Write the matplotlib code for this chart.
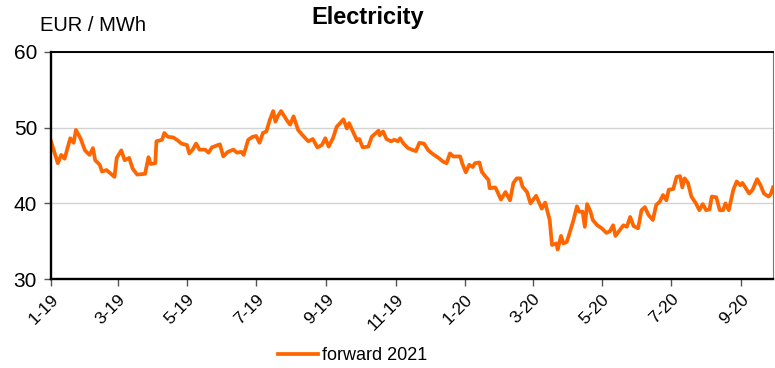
import matplotlib.pyplot as plt
import matplotlib.dates as mdates
import numpy as np
import pandas as pd

plt.rcParams['font.family'] = ['Liberation Sans', 'DejaVu Sans']

# forward 2021 contract, days counted from 1 Jan 2019
day = [0, 6, 9, 12, 17, 20, 22, 26, 30, 34, 37, 39, 43, 45, 49, 56, 58, 62, 65, 69,
       72, 76, 83, 86, 88, 92, 93, 98, 100, 103, 108, 112, 115, 120, 122, 125, 128,
       131, 136, 139, 142, 149, 152, 156, 161, 164, 168, 170, 174, 178, 181, 184,
       187, 190, 193, 196, 198, 200, 203, 208, 211, 214, 218, 222, 227, 231, 235,
       239, 242, 245, 249, 252, 255, 258, 261, 263, 267, 270, 272, 275, 280, 283,
       289, 290, 293, 296, 300, 303, 306, 308, 311, 315, 320, 322, 325, 329, 333,
       337, 342, 346, 349, 352, 355, 361, 363, 366, 369, 372, 374, 378, 380, 383,
       386, 387, 392, 394, 397, 401, 405, 408, 411, 414, 416, 420, 423, 428, 433,
       436, 440, 442, 446, 447, 450, 452, 455, 457, 461, 464, 466, 469, 471, 473,
       476, 478, 482, 486, 490, 493, 496, 498, 502, 505, 508, 511, 514, 518, 521,
       524, 527, 531, 534, 537, 540, 543, 545, 549, 552, 555, 557, 559, 562, 565,
       569, 572, 575, 578, 581, 583, 587, 590, 593, 595, 598, 602, 605, 608, 610,
       616, 619, 623, 626, 629, 633, 635, 637]
price = [48.2, 45.3, 46.4, 45.9, 48.6, 48.0, 49.7, 48.6, 47.0, 46.4, 47.3, 45.7, 45.1,
         44.2, 44.4, 43.5, 46.0, 47.0, 45.7, 46.0, 44.6, 43.8, 43.9, 46.1, 45.2, 45.3,
         48.2, 48.4, 49.3, 48.8, 48.7, 48.3, 47.9, 47.7, 46.6, 47.1, 47.9, 47.1, 47.1,
         46.7, 47.4, 47.8, 46.2, 46.8, 47.1, 46.7, 46.8, 46.4, 48.4, 48.8, 48.9, 48.0,
         49.3, 49.5, 51.0, 52.2, 50.8, 51.5, 52.2, 51.0, 50.4, 51.5, 49.7, 49.0, 48.2,
         48.5, 47.4, 47.7, 48.6, 47.5, 48.7, 50.1, 50.6, 51.1, 49.9, 50.6, 49.3, 48.3,
         48.5, 47.4, 47.5, 48.8, 49.6, 49.0, 49.5, 48.5, 48.2, 48.4, 48.2, 48.6, 47.9,
         47.3, 47.0, 46.9, 48.0, 47.9, 47.0, 46.5, 46.0, 45.5, 45.3, 46.6, 46.2, 46.2,
         45.2, 44.1, 45.1, 44.8, 45.3, 45.4, 44.2, 43.6, 43.1, 42.0, 42.1, 41.5, 40.5,
         41.5, 40.4, 42.7, 43.3, 43.3, 42.2, 41.5, 40.0, 41.0, 39.3, 40.1, 37.8, 34.5,
         34.7, 33.9, 35.7, 34.7, 34.9, 35.8, 37.8, 39.6, 38.9, 38.9, 36.9, 39.9, 38.9,
         37.8, 37.1, 36.7, 36.1, 36.3, 37.1, 35.7, 36.5, 37.1, 36.9, 38.2, 37.0, 36.7,
         39.1, 39.5, 38.5, 37.8, 39.8, 40.2, 41.1, 40.4, 41.8, 41.9, 43.5, 43.6, 42.1,
         43.3, 42.7, 40.9, 40.0, 39.1, 39.9, 39.1, 39.2, 40.9, 40.8, 39.1, 39.1, 40.0,
         39.1, 41.8, 42.9, 42.4, 42.7, 41.3, 41.8, 43.2, 42.4, 41.3, 40.9, 41.2, 42.1]

start = pd.Timestamp('2019-01-01')
dates = start + pd.to_timedelta(day, unit='D')

tick_dates = pd.date_range('2019-01-01', '2020-09-01', freq='2MS')
tick_labels = [f'{d.month}-{d.strftime("%y")}' for d in tick_dates]

fig = plt.figure(figsize=(7.75, 3.68), dpi=100)
ax = fig.add_axes([0.0658, 0.2418, 0.9316, 0.6169])

ax.plot(dates, price, color='#ff6600', lw=2.7, label='forward 2021')

ax.set_ylim(30, 60)
ax.set_yticks([30, 40, 50, 60])
ax.set_xlim(start, start + pd.Timedelta(days=637))
ax.set_xticks(tick_dates)
ax.set_xticklabels(tick_labels, rotation=45, ha='right', rotation_mode='anchor', fontsize=12.5)
ax.tick_params(axis='y', labelsize=15, length=5, width=1, color='#555555', pad=5)
ax.tick_params(axis='x', length=5, width=1, color='#555555', pad=4)

ax.grid(axis='y', color='#d3d3d3', lw=1)
ax.set_axisbelow(True)
for s in ['left', 'bottom']:
    ax.spines[s].set_linewidth(1.7)
ax.spines['top'].set_linewidth(1.4)
ax.spines['right'].set_linewidth(0.8)
ax.spines['right'].set_color('#777777')

fig.text(0.475, 0.953, 'Electricity', ha='center', va='center', fontsize=17, fontweight='bold')
fig.text(0.051, 0.93, 'EUR / MWh', ha='left', va='center', fontsize=14.5)

fig.legend(loc='center', bbox_to_anchor=(0.455, 0.033), frameon=False, fontsize=13,
           handlelength=2.2, handletextpad=0.2)

fig.savefig('out.png', dpi=100)
